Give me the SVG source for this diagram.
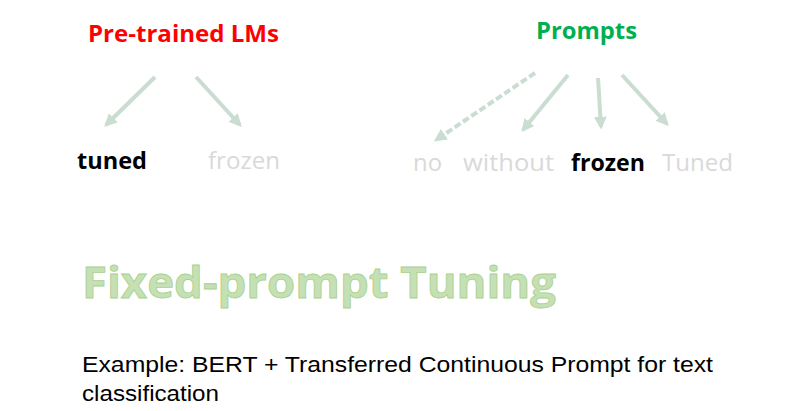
<svg xmlns="http://www.w3.org/2000/svg" width="801" height="411" viewBox="0 0 801 411">
<defs>
<marker id="ah" viewBox="0 0 10 10" refX="8" refY="5" markerWidth="3.2" markerHeight="3.2" orient="auto" markerUnits="strokeWidth">
<path d="M0,0 L10,5 L0,10 z" fill="#c9ddd0"/>
</marker>
<style>
.cal{font-family:"Open Sans",Lato,"Liberation Sans",sans-serif}
.hd{font-size:23px;font-weight:bold}
.lb{font-size:23px}
.gray{fill:#d9d9d9}
.blk{fill:#000;font-weight:bold}
.arr{stroke:#c9ddd0;stroke-width:4;fill:none;marker-end:url(#ah)}
.body{font-family:"Liberation Sans",Arial,sans-serif;font-size:22px;fill:#000}
</style>
</defs>
<rect width="801" height="411" fill="#fff"/>
<g id="lm-title"><text class="cal hd" x="88" y="42" textLength="191" lengthAdjust="spacingAndGlyphs" fill="#ff0000">Pre-trained LMs</text></g>
<g id="prompts-title"><text class="cal hd" x="536" y="39" textLength="101" lengthAdjust="spacingAndGlyphs" fill="#00b050">Prompts</text></g>
<g id="lm-tuned"><text class="cal lb blk" x="77" y="169" textLength="70" lengthAdjust="spacingAndGlyphs">tuned</text></g>
<g id="lm-frozen"><text class="cal lb gray" x="208" y="169" textLength="72" lengthAdjust="spacingAndGlyphs">frozen</text></g>
<g id="p-no"><text class="cal lb gray" x="413" y="171" textLength="29" lengthAdjust="spacingAndGlyphs">no</text></g>
<g id="p-without"><text class="cal lb gray" x="463" y="171" textLength="91" lengthAdjust="spacingAndGlyphs">without</text></g>
<g id="p-frozen"><text class="cal lb blk" x="571" y="171" textLength="74" lengthAdjust="spacingAndGlyphs">frozen</text></g>
<g id="p-tuned"><text class="cal lb gray" x="662" y="171" textLength="71" lengthAdjust="spacingAndGlyphs">Tuned</text></g>
<g id="connectors">
<line class="arr" x1="155" y1="77" x2="106" y2="125"/>
<line class="arr" x1="196" y1="77" x2="240" y2="125"/>
<line class="arr" x1="535" y1="73" x2="436" y2="140" stroke-dasharray="7,3"/>
<line class="arr" x1="568" y1="75" x2="523" y2="130"/>
<line class="arr" x1="598" y1="78" x2="601" y2="127"/>
<line class="arr" x1="622" y1="75" x2="667" y2="124"/>
</g>
<g id="main-title"><text class="cal" x="82" y="298" font-size="43" font-weight="bold" textLength="474" lengthAdjust="spacingAndGlyphs" fill="#c5e0b4" stroke="#a9d18e" stroke-width="0.8">Fixed-prompt Tuning</text></g>
<g id="example">
<text class="body" x="82" y="372" textLength="631" lengthAdjust="spacingAndGlyphs">Example: BERT + Transferred Continuous Prompt for text</text>
<text class="body" x="82" y="401" textLength="137" lengthAdjust="spacingAndGlyphs">classification</text>
</g>
</svg>
